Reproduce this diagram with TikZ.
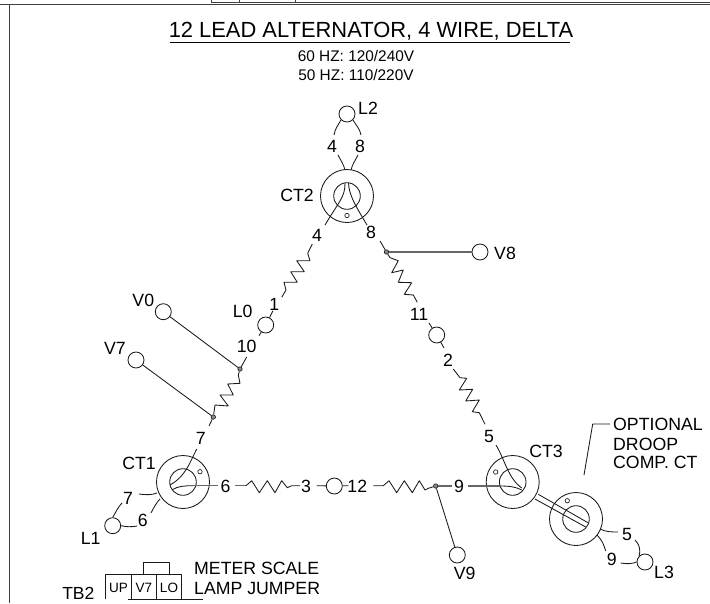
\documentclass[tikz,border=0pt]{standalone}
\usepackage{fontspec}
\setmainfont{Liberation Sans}
\newcommand{\fsz}[1]{\fontsize{#1}{#1}\selectfont}
\tikzset{
 wire/.style={line width=0.85pt,black!90,line join=round},
 gwire/.style={line width=1.3pt,black!60},
 term/.style={circle,draw=black!90,line width=0.85pt,minimum size=16pt,inner sep=0pt,fill=white},
 tap/.style={circle,draw=black!85,line width=0.7pt,fill=black!45,minimum size=4.4pt,inner sep=0pt},
 hole/.style={circle,draw=black!85,line width=0.7pt,minimum size=4.4pt,inner sep=0pt},
 ctout/.style={circle,draw=black!90,line width=0.85pt,minimum size=53pt,inner sep=0pt},
 ctin/.style={circle,draw=black!90,line width=0.85pt,minimum size=26.6pt,inner sep=0pt},
 lbl/.style={inner sep=0pt,font=\fsz{17.7}},
 lbll/.style={inner sep=0pt,anchor=west,font=\fsz{17.7}},
 small/.style={inner sep=0pt,font=\fsz{13.5}},
}
\begin{document}
\begin{tikzpicture}[x=1pt,y=-1pt]
\useasboundingbox (0,0) rectangle (710,603);
% frame
\coordinate (fl) at (0,4.5); \coordinate (fr) at (710,4.5);
\coordinate (ft) at (9.5,4.5); \coordinate (fb) at (9.5,603);
\draw[line width=1pt,black!75] (fl) -- (fr);
\draw[line width=0.9pt,black!75] (ft) -- (fb);
\coordinate (t0) at (211,0); \coordinate (t1) at (239,0); \coordinate (t2) at (295,0);
\coordinate (t3) at (710,2);
\draw[line width=0.7pt,black!75] (t0) |- (t3);
\draw[line width=0.7pt,black!75] (t1) -- ++(0,2) (t2) -- ++(0,2);
% title
\node[inner sep=0pt,font=\fsz{21.9}] (title) at (371,31) {12 LEAD ALTERNATOR, 4 WIRE, DELTA};
\coordinate (ua) at (170,42.5); \coordinate (ub) at (570,42.5);
\draw[line width=0.9pt,black] (ua) -- (ub);
\node[inner sep=0pt,font=\fsz{15.4}] (sub1) at (356,56) {60 HZ: 120/240V};
\node[inner sep=0pt,font=\fsz{15.4}] (sub2) at (356,75) {50 HZ: 110/220V};
% CT units
\node[ctout] (CT2o) at (347,196) {}; \node[ctin] (CT2i) at (347,196) {};
\node[hole] (CT2h) at (347,215.5) {};
\node[ctout] (CT1o) at (183,482) {}; \node[ctin] (CT1i) at (183,482) {};
\node[hole] (CT1h) at (200,471.7) {};
\node[ctout] (CT3o) at (512.7,482) {}; \node[ctin] (CT3i) at (512.7,482) {};
\node[hole] (CT3h) at (495.7,472) {};
\node[ctout] (CTDo) at (576,519) {}; \node[ctin] (CTDi) at (576,519) {};
\node[hole] (CTDh) at (567.3,500.7) {};
% terminals
\node[term] (L2) at (347,114) {};
\node[term] (V8) at (480,252) {};
\node[term] (LM) at (436.7,335) {};
\node[term] (L0) at (265.7,325) {};
\node[term] (V0) at (163.3,311.7) {};
\node[term] (V7) at (136,360) {};
\node[term] (L1) at (112.7,525.7) {};
\node[term] (LB) at (334.3,486) {};
\node[term] (V9) at (457.3,555) {};
\node[term] (L3) at (645,562) {};
% taps
\node[tap] (d8) at (386.5,252) {};
\node[tap] (d10) at (240,369) {};
\node[tap] (d7) at (213.3,417) {};
\node[tap] (d9) at (435.7,486) {};
% labels
\node[lbl] (tL2) at (368,108) {L2};
\node[lbl] (a4) at (332,146) {4};
\node[lbl] (a8) at (360,146) {8};
\node[lbl] (tCT2) at (297,195) {CT2};
\node[lbl] (b4) at (317,235) {4};
\node[lbl] (b8) at (371,232) {8};
\node[lbll] (tV8) at (494,253) {V8};
\node[lbl] (t11) at (419,314) {11};
\node[lbl] (t2) at (448,360) {2};
\node[lbl] (t5) at (489,436) {5};
\node[lbl] (tCT3) at (546,451) {CT3};
\node[lbl] (t9) at (459,486) {9};
\node[lbl] (tV9) at (464.7,573) {V9};
\node[lbl] (u5) at (627,534) {5};
\node[lbl] (u9) at (611.7,559) {9};
\node[lbl] (tL3) at (664,572) {L3};
\node[lbll] (o1) at (613,424) {OPTIONAL};
\node[lbll] (o2) at (613,444) {DROOP};
\node[lbll] (o3) at (613,462) {COMP. CT};
\node[lbl] (tCT1) at (139,463) {CT1};
\node[lbl] (c7) at (200.7,438) {7};
\node[lbl] (c6) at (225.5,486) {6};
\node[lbl] (d7l) at (128,498) {7};
\node[lbl] (d6l) at (142.7,520) {6};
\node[lbl] (tL1) at (90.7,538) {L1};
\node[lbl] (t3) at (306,486) {3};
\node[lbl] (t12) at (357.3,486) {12};
\node[lbl] (tV0) at (143.3,300.7) {V0};
\node[lbl] (tV7) at (115,348) {V7};
\node[lbl] (t10) at (246.7,346) {10};
\node[lbl] (tL0) at (242.7,311.7) {L0};
\node[lbl] (t1l) at (274.3,304.3) {1};
% L2 leads
\coordinate (p1) at (334,135); \coordinate (p2) at (361,135);
\coordinate (p3) at (338,155); \coordinate (p4) at (345,170);
\coordinate (p5) at (358,155); \coordinate (p6) at (351,170);
\coordinate (p7) at (345,183); \coordinate (p8) at (325,225);
\coordinate (p9) at (348.5,183); \coordinate (p10) at (367,225);
\coordinate (p11) at (380,241);
\draw[wire] (L2.south west) .. controls (338,125) and (335,129) .. (p1);
\draw[wire] (L2.south east) .. controls (356,125) and (360,129) .. (p2);
\draw[wire] (p3) .. controls (340,159) and (344,165) .. (p4);
\draw[wire] (p5) .. controls (356,159) and (352,165) .. (p6);
\draw[wire] (p7) .. controls (345,197) and (340,200) .. (p8);
\draw[wire] (p9) .. controls (349,195) and (355,205) .. (p10);
\draw[wire] (p11) -- (d8);
\draw[gwire] (d8) -- (V8);
% right leg
\coordinate (r1) at (417.3,302.3); \coordinate (r2) at (429,323);
\coordinate (r3) at (444,348); \coordinate (r4) at (453.3,369);
\coordinate (r5) at (485,424.3); \coordinate (r6) at (496,445);
\coordinate (r7) at (521.7,488);
\draw[wire] (d8) -- (390,257.7) -- (398.3,260.7) -- (391.7,272.7) -- (403.3,270) -- (398.3,282.3) -- (411.7,282.7) -- (404.3,294.3) -- (413.3,295) -- (r1);
\draw[wire] (r2) -- (LM);
\draw[wire] (LM) -- (r3);
\draw[wire] (r4) -- (460,377.7) -- (466.7,378.3) -- (459.3,390) -- (472.7,389.3) -- (465.7,401) -- (479.3,400) -- (472.3,411.7) -- (479.3,412.7) -- (r5);
\draw[wire] (r6) .. controls (505,460) and (508,478) .. (r7);
% 9 into CT3
\coordinate (n1) at (452,486); \coordinate (n2) at (468,486);
\coordinate (n3) at (500,486); \coordinate (n4) at (521.7,490);
\draw[gwire] (d9) -- (n1);
\draw[gwire] (n2) -- (n3);
\draw[wire] (n3) .. controls (510,486) and (516,487) .. (n4);
\draw[wire] (d9) -- (V9);
% droop CT bar
\coordinate (s1) at (538.3,494.3); \coordinate (s2) at (588,522.7);
\coordinate (s3) at (535,499); \coordinate (s4) at (585.7,527);
\draw[wire] (s1) -- (s2);
\draw[wire] (s3) -- (s4);
% L3 leads
\coordinate (q1) at (600,529); \coordinate (q2) at (618,532);
\coordinate (q3) at (597,535); \coordinate (q4) at (605.7,551);
\coordinate (q5) at (635,540); \coordinate (q6) at (620.7,563);
\draw[wire] (q1) .. controls (606,532) and (612,532) .. (q2);
\draw[wire] (q3) .. controls (602,540) and (604,545) .. (q4);
\draw[wire] (q5) .. controls (639,544) and (641,549) .. (L3.north west);
\draw[wire] (q6) .. controls (626,564) and (632,564) .. (L3.west);
% optional leader
\coordinate (o4) at (610,424); \coordinate (o5) at (592.7,424); \coordinate (o6) at (584,475);
\draw[wire] (o4) -- (o5) -- (o6);
% bottom leg
\coordinate (h1) at (235,485.7); \coordinate (h2) at (246,485.7);
\coordinate (h3) at (300,485.7); \coordinate (h4) at (316.7,485.7);
\coordinate (h5) at (348.5,485.7); \coordinate (h6) at (373.3,485.7);
\coordinate (h7) at (383.3,485.7);
\draw[gwire] (h1) -- (h2);
\draw[wire] (h2) -- (251.7,480.7) -- (259.3,492.7) -- (267.3,480.7) -- (275,492.7) -- (281.7,480.7) -- (287.3,487.7) -- (291.7,485.7) -- (h3);
\draw[wire] (h4) -- (LB);
\draw[wire] (LB) -- (h5);
\draw[wire] (h6) -- (h7) -- (389,480.7) -- (396.7,492.7) -- (404.3,480.7) -- (412.3,492.7) -- (419.3,480.7) -- (425,490) -- (428.3,488.3) -- (d9);
% CT1 leads
\coordinate (k1) at (196.7,449); \coordinate (k2) at (170,485);
\coordinate (k3) at (171.7,490); \coordinate (k4) at (193,485.7); \coordinate (k5) at (218,485.7);
\coordinate (k6) at (139,494); \coordinate (k7) at (157,493);
\coordinate (k8) at (122,503); \coordinate (k9) at (137,526);
\coordinate (k10) at (151,513); \coordinate (k11) at (160,499);
\coordinate (k12) at (209,426);
\draw[wire] (k1) .. controls (190,462) and (186,476) .. (k2);
\draw[wire] (k3) .. controls (178,486) and (185,485.7) .. (k4);
\draw[gwire] (k4) -- (k5);
\draw[wire] (k6) .. controls (146,495) and (152,495) .. (k7);
\draw[wire] (k8) .. controls (118,507) and (116,512) .. (L1.north);
\draw[wire] (L1.east) .. controls (126,527) and (132,527) .. (k9);
\draw[wire] (k10) .. controls (154,507) and (157,502) .. (k11);
% left leg
\coordinate (m1) at (246.7,357); \coordinate (m2) at (259,335.7);
\coordinate (m3) at (273,310.7); \coordinate (m4) at (281.7,297.3);
\coordinate (m5) at (312.3,244);
\draw[wire] (k12) -- (d7);
\draw[wire] (d7) -- (215,405) -- (228.3,406) -- (220,395) -- (233.3,395) -- (227.7,384) -- (240,383.3) -- (238.3,375) -- (d10);
\draw[wire] (V0) -- (d10);
\draw[wire] (V7) -- (d7);
\draw[wire] (d10) -- (m1);
\draw[wire] (m2) -- (L0);
\draw[wire] (L0) -- (m3);
\draw[wire] (m4) -- (286,290) -- (284,282.3) -- (297.3,282.3) -- (290.7,271.7) -- (304.3,271.7) -- (296.7,260.7) -- (310,260.7) -- (307.7,253.3) -- (m5);
% TB2
\node[inner sep=0pt,font=\fsz{17.5}] (tTB) at (78.3,593) {TB2};
\coordinate (b1) at (105.7,599.3); \coordinate (b2) at (105.7,574.3); \coordinate (b3) at (181.7,574.3); \coordinate (b4) at (181.7,599.3);
\coordinate (b5) at (131.3,574.3); \coordinate (b6) at (131.3,599.3);
\coordinate (b7) at (156.7,574.3); \coordinate (b8) at (156.7,599.3);
\coordinate (b9) at (128,599.3); \coordinate (b10) at (202.7,599.3);
\coordinate (j1) at (143.3,574.3); \coordinate (j2) at (143.3,562.3); \coordinate (j3) at (169,562.3); \coordinate (j4) at (169,574.3);
\draw[wire] (b1) -- (b2) -- (b3) -- (b4);
\draw[wire] (b5) -- (b6);
\draw[wire] (b7) -- (b8);
\draw[wire] (b9) -- (b10);
\draw[wire] (j1) -- (j2) -- (j3) -- (j4);
\node[small] (up) at (118.5,588) {UP};
\node[small] (v7b) at (144,588) {V7};
\node[small] (lo) at (169,588) {LO};
\node[lbll] (m1t) at (194,568) {METER SCALE};
\node[lbll] (m2t) at (194,588) {LAMP JUMPER};
\end{tikzpicture}
\end{document}
